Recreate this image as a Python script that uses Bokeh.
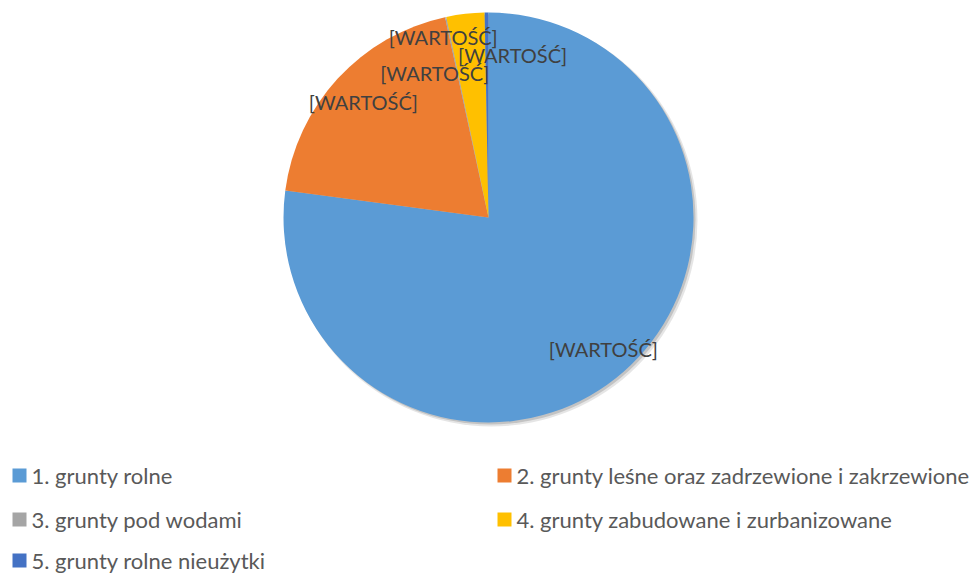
import math
from bokeh.plotting import figure
from bokeh.models import Range1d
from bokeh.core.properties import value
from bokeh.embed import file_html
from bokeh.resources import INLINE

# ---- data ----
categories = [
    "1. grunty rolne",
    "2. grunty leśne oraz zadrzewione i zakrzewione",
    "3. grunty pod wodami",
    "4. grunty zabudowane i zurbanizowane",
    "5. grunty rolne nieużytki",
]
shares = [77.1, 19.5, 0.1, 3.0, 0.3]
colors = ["#5B9BD5", "#ED7D31", "#A5A5A5", "#FFC000", "#4472C4"]
label_text = "[WARTOŚĆ]"

# ---- layout / style ----
W, H = 976, 576
CX, CY, R = 488, H - 217, 205
label_r = [0.85, 0.83, 0.91, 0.75, 0.80]
label_nudge = [0, 0, 2, 14, -9]  # degrees
FONT = "Lato"

p = figure(width=W, height=H, output_backend="svg", toolbar_location=None,
           x_range=Range1d(0, W), y_range=Range1d(0, H), min_border=0)
p.axis.visible = False
p.grid.visible = False
p.outline_line_color = None
p.background_fill_color = "white"

# shadow
p.circle(x=[CX + 3], y=[CY - 3], radius=R + 1, fill_color="#000000", fill_alpha=0.10, line_color=None)
p.circle(x=[CX + 2], y=[CY - 2], radius=R, fill_color="#000000", fill_alpha=0.15, line_color=None)

total = sum(shares)
cum = 0.0
starts, ends, mids = [], [], []
for s in shares:
    a0 = cum / total * 360.0
    cum += s
    a1 = cum / total * 360.0
    starts.append(math.radians(90 - a1))
    ends.append(math.radians(90 - a0))
    mids.append(90 - (a0 + a1) / 2)

p.wedge(x=[CX] * len(shares), y=[CY] * len(shares), radius=R,
        start_angle=starts, end_angle=ends, fill_color=colors,
        line_color=None)

# data labels
lx, ly = [], []
for m, rf, nd in zip(mids, label_r, label_nudge):
    t = math.radians(m + nd)
    lx.append(CX + rf * R * math.cos(t))
    ly.append(CY + rf * R * math.sin(t))
p.text(x=lx, y=ly, text=[label_text] * len(shares), text_align="center",
       text_baseline="middle", text_font=value(FONT), text_font_size="20px",
       text_color="#404040")

# legend
col_x = [12, 497]
row_y = [H - 475, H - 519, H - 560]
sq = 14
for i, (c, name) in enumerate(zip(colors, categories)):
    cx = col_x[i % 2]
    cy = row_y[i // 2]
    p.rect(x=[cx + sq / 2], y=[cy], width=sq, height=sq, fill_color=c, line_color=None)
    p.text(x=[cx + sq + 5], y=[cy], text=[name], text_align="left",
           text_baseline="middle", text_font=value(FONT), text_font_size="22px",
           text_color="#595959")

open("out.html", "w").write(file_html(p, INLINE))
